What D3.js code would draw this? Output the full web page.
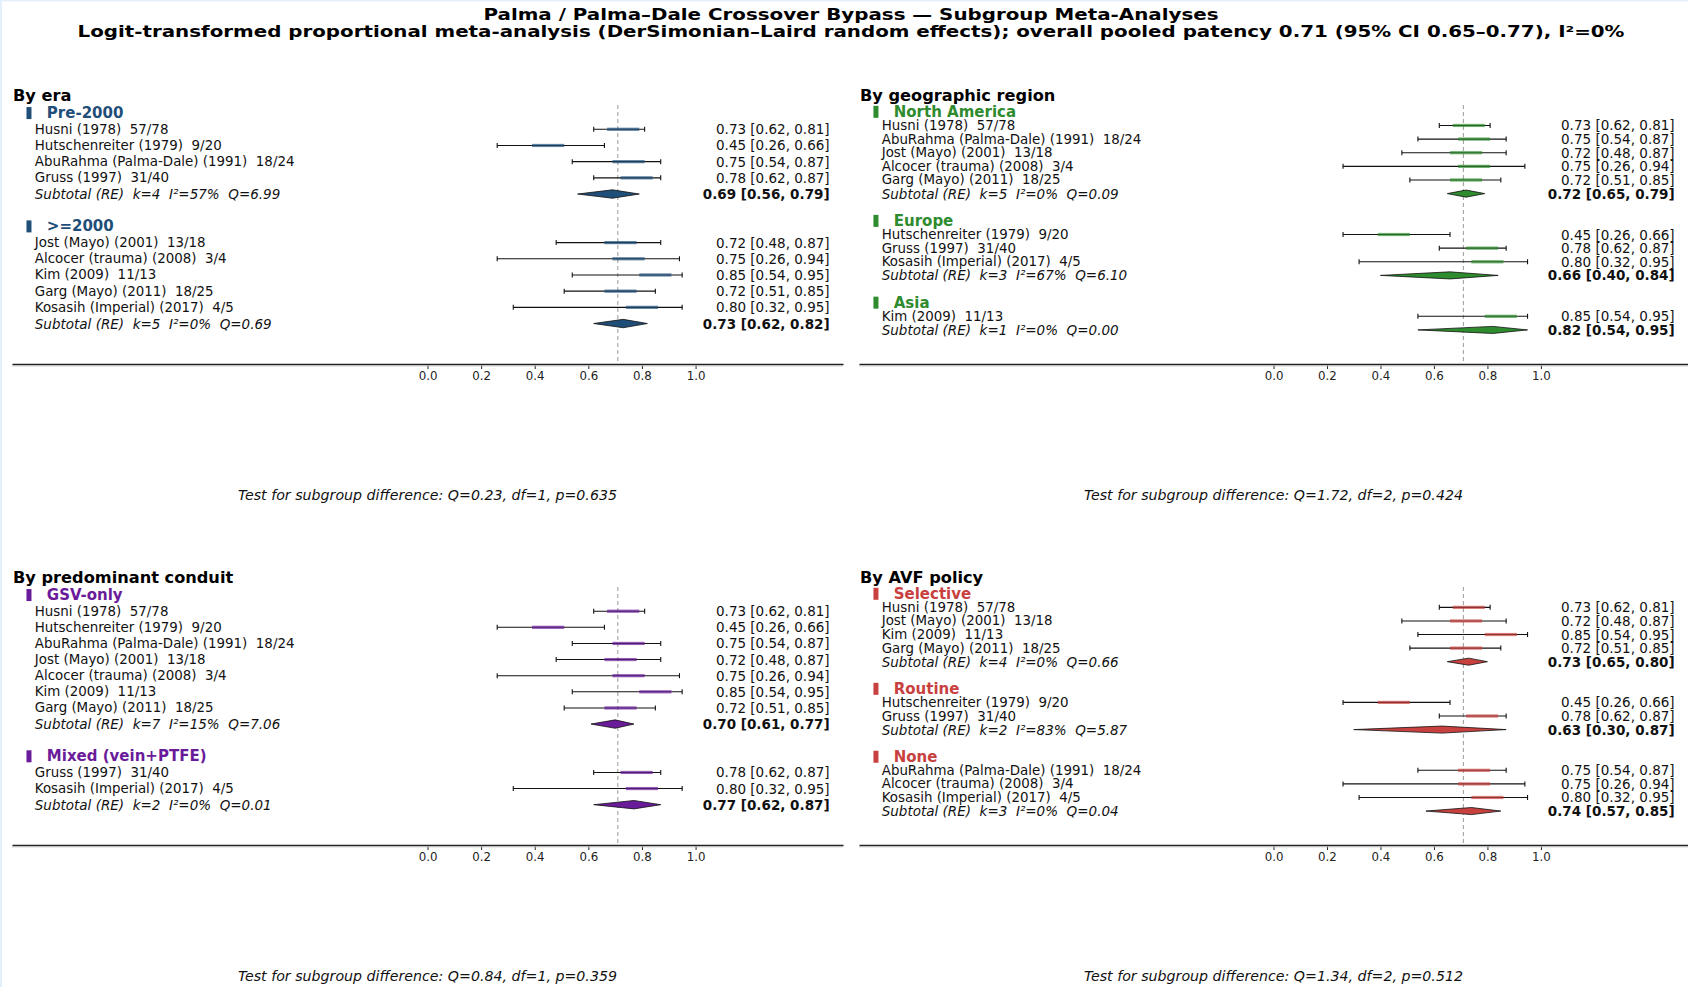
<!DOCTYPE html>
<html>
<head>
<meta charset="utf-8">
<script src="https://cdn.jsdelivr.net/npm/d3@7"></script>
<style>
  html, body { margin: 0; padding: 0; background: #fff; }
  svg { display: block; font-family: "DejaVu Sans", sans-serif; }
  text { white-space: pre; }
</style>
</head>
<body>
<div id="chart"></div>
<script>
// studies
var studyNames = ["Husni (1978)", "Hutschenreiter (1979)", "AbuRahma (Palma-Dale) (1991)", "Gruss (1997)",
                  "Jost (Mayo) (2001)", "Alcocer (trauma) (2008)", "Kim (2009)", "Garg (Mayo) (2011)", "Kosasih (Imperial) (2017)"]
var studyEvents = [57, 9, 18, 31, 13, 3, 11, 18, 4]
var studyTotals = [78, 20, 24, 40, 18, 4, 13, 25, 5]
var studyEst = [0.73, 0.45, 0.75, 0.78, 0.72, 0.75, 0.85, 0.72, 0.80]
var studyLo  = [0.62, 0.26, 0.54, 0.62, 0.48, 0.26, 0.54, 0.51, 0.32]
var studyHi  = [0.81, 0.66, 0.87, 0.87, 0.87, 0.94, 0.95, 0.85, 0.95]

var overallPooled = 0.71
var xTicks = [0.0, 0.2, 0.4, 0.6, 0.8, 1.0]

// subgroups: members are indices into the study arrays
var eraGroups = [
  {name: "Pre-2000", members: [0, 1, 2, 3], k: 4, i2: 57, q: "6.99", est: 0.69, lo: 0.56, hi: 0.79},
  {name: ">=2000", members: [4, 5, 6, 7, 8], k: 5, i2: 0, q: "0.69", est: 0.73, lo: 0.62, hi: 0.82}
]
var regionGroups = [
  {name: "North America", members: [0, 2, 4, 5, 7], k: 5, i2: 0, q: "0.09", est: 0.72, lo: 0.65, hi: 0.79},
  {name: "Europe", members: [1, 3, 8], k: 3, i2: 67, q: "6.10", est: 0.66, lo: 0.40, hi: 0.84},
  {name: "Asia", members: [6], k: 1, i2: 0, q: "0.00", est: 0.82, lo: 0.54, hi: 0.95}
]
var conduitGroups = [
  {name: "GSV-only", members: [0, 1, 2, 4, 5, 6, 7], k: 7, i2: 15, q: "7.06", est: 0.70, lo: 0.61, hi: 0.77},
  {name: "Mixed (vein+PTFE)", members: [3, 8], k: 2, i2: 0, q: "0.01", est: 0.77, lo: 0.62, hi: 0.87}
]
var avfGroups = [
  {name: "Selective", members: [0, 4, 6, 7], k: 4, i2: 0, q: "0.66", est: 0.73, lo: 0.65, hi: 0.80},
  {name: "Routine", members: [1, 3], k: 2, i2: 83, q: "5.87", est: 0.63, lo: 0.30, hi: 0.87},
  {name: "None", members: [2, 5, 8], k: 3, i2: 0, q: "0.04", est: 0.74, lo: 0.57, hi: 0.85}
]
var diffTests = ["Q=0.23, df=1, p=0.635", "Q=1.72, df=2, p=0.424", "Q=0.84, df=1, p=0.359", "Q=1.34, df=2, p=0.512"]
var panelTitles = ["By era", "By geographic region", "By predominant conduit", "By AVF policy"]
var panelColors = ["#1f4e79", "#2e8b2e", "#6a1b9a", "#c8413f"]

var width = 1688, height = 987

var svg = d3.select("#chart").append("svg").attr("width", width).attr("height", height)

svg.append("rect").attr("width", width).attr("height", height).attr("fill", "#fff")
// faint frame on the left / top edges
svg.append("rect").attr("x", 0).attr("y", 0).attr("width", 2).attr("height", height).attr("fill", "#e3effa")
svg.append("rect").attr("x", 0).attr("y", 0).attr("width", width).attr("height", 1.5).attr("fill", "#e3effa")

// title glyphs are wide in the original, so stretch to its measured widths
svg.append("text").attr("x", 851).attr("y", 15).attr("text-anchor", "middle").attr("dominant-baseline", "central")
  .style("font-size", "15.5px").style("font-weight", "bold")
  .attr("textLength", 735).attr("lengthAdjust", "spacingAndGlyphs")
  .text("Palma / Palma\u2013Dale Crossover Bypass \u2014 Subgroup Meta-Analyses")
svg.append("text").attr("x", 851).attr("y", 31.5).attr("text-anchor", "middle").attr("dominant-baseline", "central")
  .style("font-size", "15.5px").style("font-weight", "bold")
  .attr("textLength", 1547).attr("lengthAdjust", "spacingAndGlyphs")
  .text("Logit-transformed proportional meta-analysis (DerSimonian\u2013Laird random effects); overall pooled patency 0.71 (95% CI 0.65\u20130.77), I\u00b2=0%")

var panels = [
  {groups: eraGroups, x0: 12, x1: 843, y0: 105, y1: 364},
  {groups: regionGroups, x0: 859, x1: 1688, y0: 105, y1: 364},
  {groups: conduitGroups, x0: 12, x1: 843, y0: 587, y1: 845},
  {groups: avfGroups, x0: 859, x1: 1688, y0: 587, y1: 845}
]

var fmt = d3.format(".2f")
function ciText(e, l, h){ return fmt(e) + " [" + fmt(l) + ", " + fmt(h) + "]" }

panels.forEach(function(p, pi){
  var color = panelColors[pi]

  // flatten to rows
  var rows = []
  p.groups.forEach(function(g, gi){
    if(gi > 0) rows.push({type: "blank"})
    rows.push({type: "header", g: g})
    g.members.forEach(function(m){ rows.push({type: "study", s: m}) })
    rows.push({type: "sub", g: g})
  })
  var n = rows.length

  var x = d3.scaleLinear().domain([-1.55, 1.55]).range([p.x0, p.x1])
  var y = d3.scaleLinear().domain([-0.5, n + 1.5]).range([p.y0, p.y1])
  var rowH = y(1) - y(0)

  var g = svg.append("g")

  g.append("text").attr("x", p.x0 + 1).attr("y", p.y0 - 4)
    .style("font-size", "16.2px").style("font-weight", "bold").text(panelTitles[pi])

  g.append("line").attr("x1", x(overallPooled)).attr("x2", x(overallPooled))
    .attr("y1", p.y0).attr("y2", p.y1)
    .attr("stroke", "#999").attr("stroke-width", 1).attr("stroke-dasharray", "4,3")

  rows.forEach(function(r, i){
    var cy = y(i)
    if(r.type === "header"){
      g.append("rect").attr("x", x(-1.496)).attr("y", cy - 6).attr("width", 5).attr("height", 12).attr("fill", color)
      g.append("text").attr("x", x(-1.42)).attr("y", cy).attr("dominant-baseline", "central")
        .style("font-size", "15px").style("font-weight", "bold").attr("fill", color).text(r.g.name)
    }
    else if(r.type === "study"){
      var s = r.s
      g.append("text").attr("x", x(-1.465)).attr("y", cy).attr("dominant-baseline", "central")
        .style("font-size", "13.4px").attr("fill", "#111")
        .text(studyNames[s] + "  " + studyEvents[s] + "/" + studyTotals[s])
      g.append("line").attr("x1", x(studyLo[s])).attr("x2", x(studyHi[s])).attr("y1", cy).attr("y2", cy)
        .attr("stroke", "#111").attr("stroke-width", 1.1)
      ;[studyLo[s], studyHi[s]].forEach(function(v){
        g.append("line").attr("x1", x(v)).attr("x2", x(v)).attr("y1", cy - 2.5).attr("y2", cy + 2.5)
          .attr("stroke", "#111").attr("stroke-width", 1.1)
      })
      g.append("rect").attr("x", x(studyEst[s] - 0.06)).attr("y", cy - 1.6)
        .attr("width", x(studyEst[s] + 0.06) - x(studyEst[s] - 0.06)).attr("height", 3.2)
        .attr("fill", color).attr("opacity", 0.7)
      g.append("text").attr("x", x(1.5)).attr("y", cy).attr("dominant-baseline", "central").attr("text-anchor", "end")
        .style("font-size", "13.5px").attr("fill", "#111")
        .text(ciText(studyEst[s], studyLo[s], studyHi[s]))
    }
    else if(r.type === "sub"){
      var sg = r.g
      g.append("text").attr("x", x(-1.465)).attr("y", cy).attr("dominant-baseline", "central")
        .style("font-size", "13.5px").style("font-style", "italic").attr("fill", "#111")
        .text("Subtotal (RE)  k=" + sg.k + "  I\u00b2=" + sg.i2 + "%  Q=" + sg.q)
      var dh = Math.min(rowH * 0.26, 4.2)
      var pts = [[x(sg.lo), cy], [x(sg.est), cy - dh], [x(sg.hi), cy], [x(sg.est), cy + dh]]
      g.append("path").attr("d", d3.line()(pts) + "Z")
        .attr("fill", color).attr("stroke", "#111").attr("stroke-width", 0.8)
      g.append("text").attr("x", x(1.5)).attr("y", cy).attr("dominant-baseline", "central").attr("text-anchor", "end")
        .style("font-size", "13.5px").style("font-weight", "bold").attr("fill", "#111")
        .text(ciText(sg.est, sg.lo, sg.hi))
    }
  })

  var axis = g.append("g").attr("transform", "translate(0," + p.y1 + ")")
    .call(d3.axisBottom(x).tickValues(xTicks).tickFormat(d3.format(".1f")).tickSize(5).tickSizeOuter(0).tickPadding(3))
  axis.select(".domain").attr("stroke", "#222").attr("stroke-width", 1.6)
  axis.selectAll(".tick line").attr("stroke", "#222")
  axis.selectAll(".tick text").style("font-size", "11.8px").style("font-family", "DejaVu Sans").attr("fill", "#222")
  g.append("line").attr("x1", p.x0).attr("x2", p.x1).attr("y1", p.y1 + 1.8).attr("y2", p.y1 + 1.8)
    .attr("stroke", "#bbb").attr("stroke-width", 1)

  g.append("text").attr("x", x(0)).attr("y", p.y1 + 131).attr("text-anchor", "middle").attr("dominant-baseline", "central")
    .style("font-size", "14.2px").style("font-style", "italic").attr("fill", "#111")
    .text("Test for subgroup difference: " + diffTests[pi])
})
</script>
</body>
</html>
